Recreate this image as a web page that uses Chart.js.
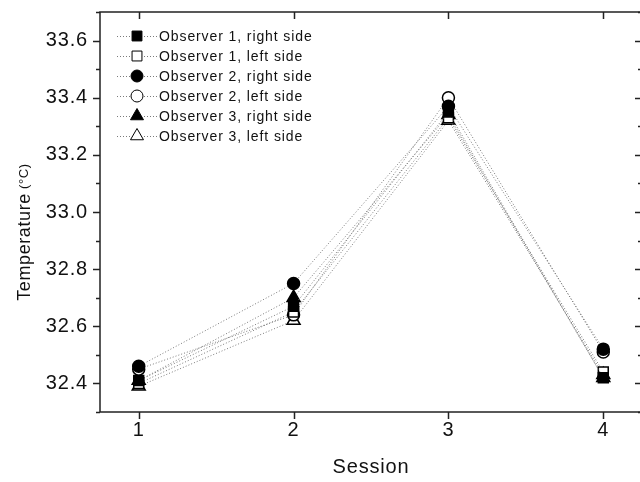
<!DOCTYPE html>
<html>
<head>
<meta charset="utf-8">
<script src="https://cdn.jsdelivr.net/npm/chart.js@4.4.1/dist/chart.umd.min.js"></script>
<style>
  html, body { margin: 0; padding: 0; background: #fff; overflow: hidden; }
  #clip { width: 640px; height: 482px; overflow: hidden; }
  #box { width: 680px; height: 482px; position: relative; }
</style>
</head>
<body>
<div id="clip"><div id="box"><canvas id="chart" width="680" height="482"></canvas></div></div>
<script>
// values
const sessions = [1, 2, 3, 4];
const seriesNames = [
  'Observer 1, right side',
  'Observer 1, left side',
  'Observer 2, right side',
  'Observer 2, left side',
  'Observer 3, right side',
  'Observer 3, left side'
];
const obs1Right = [32.41, 32.67, 33.35, 32.42];
const obs1Left  = [32.40, 32.65, 33.33, 32.44];
const obs2Right = [32.46, 32.75, 33.37, 32.52];
const obs2Left  = [32.45, 32.64, 33.40, 32.51];
const obs3Right = [32.41, 32.70, 33.34, 32.42];
const obs3Left  = [32.39, 32.62, 33.32, 32.43];

const yMin = 32.3, yMax = 33.7;
const yTickValues = [32.3, 32.4, 32.5, 32.6, 32.7, 32.8, 32.9, 33.0, 33.1, 33.2, 33.3, 33.4, 33.5, 33.6, 33.7];
const yLabelValues = [32.4, 32.6, 32.8, 33.0, 33.2, 33.4, 33.6];
const xMin = 0.75, xMax = 4.25;

const FONT = "'Liberation Sans', Arial, Helvetica, sans-serif";
Chart.defaults.font.family = FONT;
Chart.defaults.color = '#000';

const allSeries = [obs1Right, obs1Left, obs2Right, obs2Left, obs3Right, obs3Left];
const markers = [
  {style: 'rect', radius: 7, fill: '#000'},
  {style: 'rect', radius: 7, fill: '#fff'},
  {style: 'circle', radius: 6, fill: '#000'},
  {style: 'circle', radius: 6, fill: '#fff'},
  {style: 'triangle', radius: 7.5, fill: '#000'},
  {style: 'triangle', radius: 7.5, fill: '#fff'}
];

const datasets = allSeries.map((vals, i) => ({
  label: seriesNames[i],
  data: sessions.map((s, j) => ({x: s, y: vals[j]})),
  borderColor: '#7a7a7a',
  borderWidth: 1,
  borderDash: [1, 2],
  pointStyle: markers[i].style,
  pointRadius: markers[i].radius,
  pointBackgroundColor: markers[i].fill,
  pointBorderColor: '#000',
  pointBorderWidth: 1.5,
  tension: 0
}));

function isLabelled(v) {
  return yLabelValues.some(l => Math.abs(l - v) < 1e-6);
}

// spacing of glyphs like the original
const spacingPlugin = {
  id: 'spacing',
  beforeDraw(chart) { chart.ctx.letterSpacing = '0.8px'; }
};

// frame with ticks (inward on top/right, outward on left/bottom)
const framePlugin = {
  id: 'frame',
  beforeDatasetsDraw(chart) {
    const {ctx, chartArea: a, scales: {x, y}} = chart;
    ctx.save();
    ctx.strokeStyle = '#222';
    ctx.lineWidth = 1.5;
    ctx.strokeRect(a.left, a.top, a.right - a.left, a.bottom - a.top);
    ctx.beginPath();
    yTickValues.forEach(v => {
      const py = Math.round(y.getPixelForValue(v)) + 0.5;
      const len = isLabelled(v) ? 7 : 4;
      ctx.moveTo(a.left - len, py); ctx.lineTo(a.left, py);
      ctx.moveTo(a.right, py); ctx.lineTo(a.right - len, py);
    });
    sessions.forEach(s => {
      const px = Math.round(x.getPixelForValue(s)) + 0.5;
      ctx.moveTo(px, a.bottom); ctx.lineTo(px, a.bottom + 7);
      ctx.moveTo(px, a.top); ctx.lineTo(px, a.top + 7);
    });
    ctx.stroke();
    ctx.restore();
  }
};

// legend: dotted line with marker, then label
const legendPlugin = {
  id: 'obsLegend',
  afterDatasetsDraw(chart) {
    const {ctx, chartArea: a} = chart;
    ctx.save();
    chart.data.datasets.forEach((ds, i) => {
      const cy = a.top + 24 + i * 20;
      const cx = a.left + 37;
      ctx.strokeStyle = '#7a7a7a';
      ctx.lineWidth = 1;
      ctx.setLineDash([1, 2]);
      ctx.beginPath();
      ctx.moveTo(a.left + 17, cy + 0.5);
      ctx.lineTo(a.left + 57, cy + 0.5);
      ctx.stroke();
      ctx.setLineDash([]);
      ctx.fillStyle = ds.pointBackgroundColor;
      ctx.strokeStyle = '#000';
      Chart.helpers.drawPoint(ctx, {
        pointStyle: ds.pointStyle,
        radius: ds.pointRadius,
        borderWidth: 1.5,
        rotation: 0
      }, cx, cy);
      ctx.fillStyle = '#111';
      ctx.font = '14px ' + FONT;
      ctx.letterSpacing = '0.9px';
      ctx.textAlign = 'left';
      ctx.textBaseline = 'middle';
      ctx.fillText(ds.label, a.left + 59, cy + 1);
    });
    ctx.restore();
  }
};

// y title with smaller unit part
const yTitlePlugin = {
  id: 'yTitle',
  afterDraw(chart) {
    const {ctx, chartArea: a} = chart;
    const main = 'Temperature', unit = ' (\u00B0C)';
    ctx.save();
    ctx.letterSpacing = '0.6px';
    ctx.font = '18px ' + FONT;
    const w1 = ctx.measureText(main).width;
    ctx.font = '13px ' + FONT;
    const w2 = ctx.measureText(unit).width;
    ctx.translate(30, (a.top + a.bottom) / 2 + 20);
    ctx.rotate(-Math.PI / 2);
    ctx.fillStyle = '#111';
    ctx.textAlign = 'left';
    ctx.textBaseline = 'alphabetic';
    const start = -(w1 + w2) / 2;
    ctx.font = '18px ' + FONT;
    ctx.fillText(main, start, 0);
    ctx.font = '13px ' + FONT;
    ctx.fillText(unit, start + w1, -2);
    ctx.restore();
  }
};

new Chart(document.getElementById('chart'), {
  type: 'line',
  data: {datasets},
  options: {
    responsive: false,
    animation: false,
    layout: {padding: {top: 12, right: 38, left: 0, bottom: 0}},
    plugins: {legend: {display: false}, tooltip: {enabled: false}},
    scales: {
      x: {
        type: 'linear',
        min: xMin,
        max: xMax,
        afterBuildTicks: s => { s.ticks = sessions.map(v => ({value: v})); },
        afterFit: s => { s.height = 70; s.paddingLeft = 0; s.paddingRight = 0; },
        grid: {display: false, drawTicks: false, tickLength: 0},
        border: {display: false},
        ticks: {font: {size: 20}, color: '#111', padding: 6, callback: v => String(v)},
        title: {display: true, text: 'Session', font: {size: 20}, color: '#111', padding: {top: 0, bottom: 3}}
      },
      y: {
        type: 'linear',
        min: yMin,
        max: yMax,
        afterBuildTicks: s => { s.ticks = yLabelValues.map(v => ({value: v})); },
        afterFit: s => { s.width = 100; s.paddingTop = 0; s.paddingBottom = 0; },
        grid: {display: false, drawTicks: false, tickLength: 0},
        border: {display: false},
        ticks: {font: {size: 20}, color: '#111', padding: 12, callback: v => Number(v).toFixed(1)}
      }
    }
  },
  plugins: [spacingPlugin, framePlugin, legendPlugin, yTitlePlugin]
});
</script>
</body>
</html>
